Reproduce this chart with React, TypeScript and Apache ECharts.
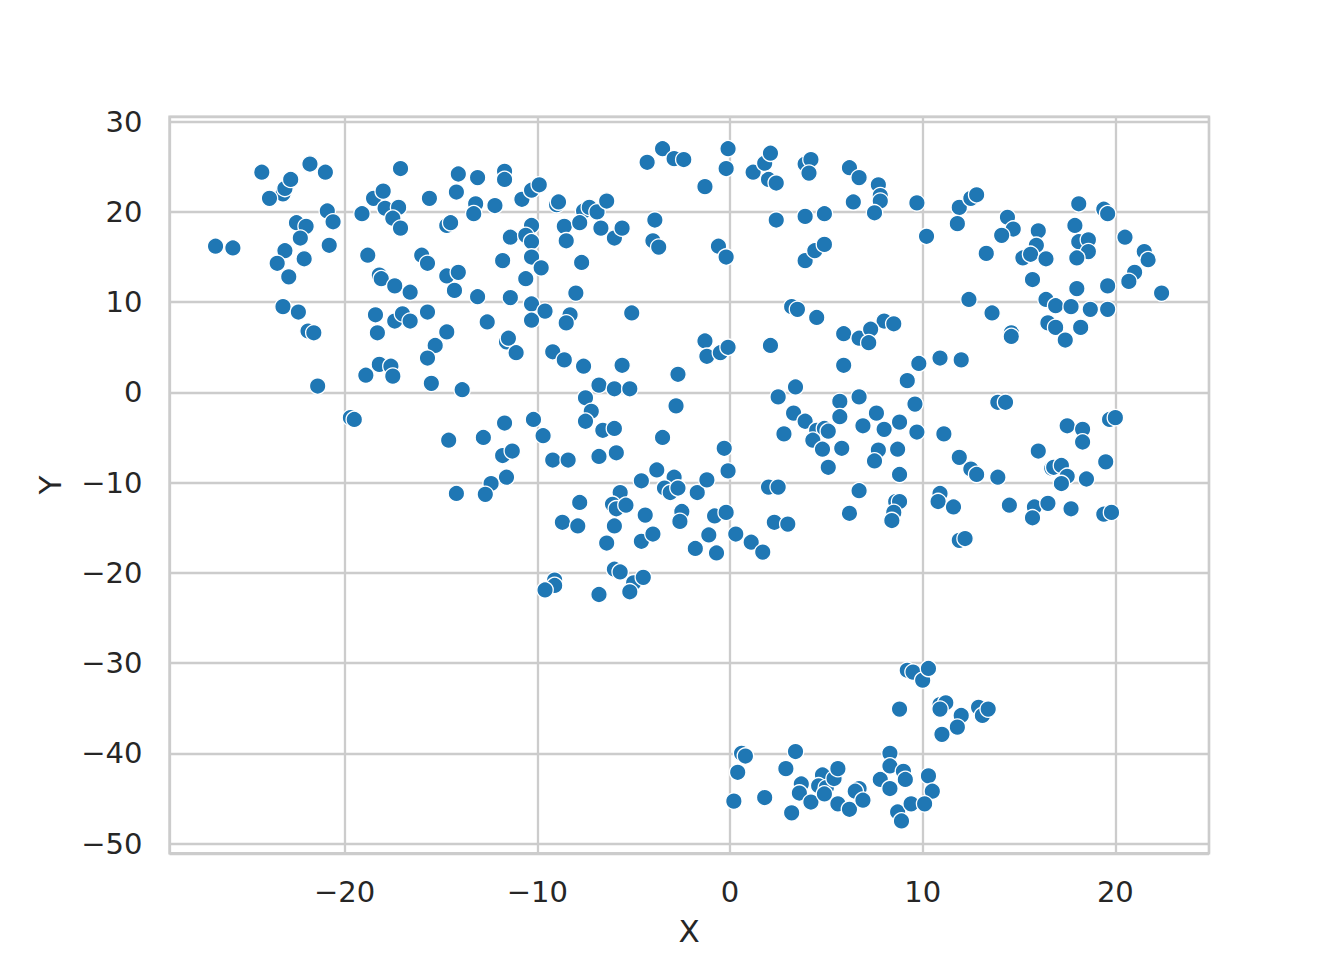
import React, { useEffect, useRef } from "react";
import * as echarts from "echarts";

// Points, grouped by region of the plot
const northWestPoints: [number, number][] = [
  [-23.2, 22.0], [-23.1, 22.6], [-22.8, 23.6], [-21.8, 25.3], [-21.0, 24.4], [-20.9, 20.1],
  [-20.6, 18.9], [-22.5, 18.8], [-22.0, 18.4], [-22.3, 17.1], [-26.7, 16.2], [-25.8, 16.0],
  [-23.1, 15.7], [-23.5, 14.3], [-22.1, 14.8], [-20.8, 16.3], [-22.9, 12.8], [-23.2, 9.5],
  [-22.4, 8.9], [-21.9, 6.8], [-21.6, 6.6], [-19.1, 19.8], [-18.5, 21.5], [-18.0, 22.3],
  [-17.9, 20.4], [-17.2, 20.5], [-17.5, 19.3], [-17.1, 18.2], [-17.1, 24.8], [-15.6, 21.5],
  [-14.1, 24.2], [-13.1, 23.8], [-11.7, 24.5], [-11.7, 23.6], [-14.2, 22.2], [-13.2, 20.9],
  [-13.3, 19.8], [-12.2, 20.7], [-14.7, 18.5], [-14.5, 18.8], [-11.4, 17.2], [-18.8, 15.2],
  [-16.0, 15.2], [-15.7, 14.3], [-11.8, 14.6], [-18.2, 13.0], [-18.1, 12.6], [-17.4, 11.8],
  [-16.6, 11.1], [-14.7, 12.9], [-14.1, 13.3], [-14.3, 11.3], [-13.1, 10.6], [-11.4, 10.5],
  [-18.4, 8.6], [-18.3, 6.6], [-17.4, 7.9], [-17.0, 8.7], [-16.6, 7.9], [-15.7, 8.9],
  [-12.6, 7.8], [-14.7, 6.7], [-15.3, 5.2], [-15.7, 3.8], [-11.6, 5.6], [-11.5, 6.0],
  [-11.1, 4.4], [-18.2, 3.1], [-17.6, 2.9], [-24.3, 24.4], [-23.9, 21.5],
];

const southWestPoints: [number, number][] = [
  [-17.5, 1.8], [-18.9, 1.9], [-15.5, 1.0], [-21.4, 0.7], [-13.9, 0.3], [-19.7, -2.8],
  [-19.5, -3.0], [-14.6, -5.3], [-12.8, -5.0], [-11.7, -3.4], [-11.8, -7.0], [-11.3, -6.5],
  [-11.6, -9.4], [-12.4, -10.1], [-14.2, -11.2], [-12.7, -11.3],
];

const northCentralPoints: [number, number][] = [
  [-4.3, 25.5], [-3.5, 27.0], [-2.9, 25.9], [-2.4, 25.8], [-0.1, 27.0], [-0.2, 24.8],
  [-1.3, 22.8], [1.2, 24.4], [1.8, 25.4], [2.1, 26.5], [2.0, 23.6], [2.4, 23.2],
  [3.9, 25.3], [4.2, 25.8], [4.1, 24.3], [6.2, 24.9], [6.7, 23.8], [6.4, 21.1],
  [-10.8, 21.4], [-10.3, 22.4], [-9.9, 23.0], [-9.0, 20.8], [-8.9, 21.1], [-7.6, 20.1],
  [-7.3, 20.5], [-6.9, 20.0], [-6.4, 21.2], [-8.6, 18.4], [-7.8, 18.8], [-6.7, 18.2],
  [-6.0, 17.1], [-5.6, 18.2], [-8.5, 16.8], [-3.9, 19.1], [-4.0, 16.8], [-3.7, 16.1],
  [-10.3, 18.5], [-10.6, 17.4], [-10.3, 16.7], [-10.3, 15.0], [-9.8, 13.8], [-7.7, 14.4],
  [-10.6, 12.6], [-10.3, 9.8], [-9.6, 9.0], [-10.3, 8.0], [-8.0, 11.0], [-8.3, 8.6],
  [-8.5, 7.7], [-5.1, 8.8], [-0.6, 16.2], [-0.2, 15.0], [2.4, 19.1], [3.9, 19.5],
  [4.9, 19.8], [3.9, 14.6], [4.4, 15.7], [4.9, 16.4], [3.2, 9.5], [3.5, 9.2],
  [4.5, 8.3], [5.9, 6.5], [6.7, 6.0], [2.1, 5.2], [-1.3, 5.7], [-1.2, 4.0],
  [-0.5, 4.4], [-0.1, 5.0], [-9.2, 4.5], [-8.6, 3.6], [-7.6, 2.9], [-5.6, 3.0],
];

const southCentralPoints: [number, number][] = [
  [-2.7, 2.0], [-6.8, 0.8], [-6.0, 0.4], [-5.2, 0.4], [-7.5, -0.6], [-7.2, -2.1],
  [-7.5, -3.2], [-2.8, -1.5], [-10.2, -3.0], [-9.7, -4.8], [-6.6, -4.2], [-6.0, -4.0],
  [-3.5, -5.0], [-9.2, -7.5], [-8.4, -7.5], [-6.8, -7.1], [-5.9, -6.7], [-0.3, -6.2],
  [-0.1, -8.7], [-3.8, -8.6], [-4.6, -9.8], [-2.9, -9.4], [-3.4, -10.6], [-3.1, -11.1],
  [-2.7, -10.6], [-1.7, -11.1], [-1.2, -9.7], [-5.7, -11.1], [-6.1, -12.4], [-5.9, -12.9],
  [-5.4, -12.5], [-7.8, -12.2], [-8.7, -14.4], [-7.9, -14.8], [-6.0, -14.8], [-4.4, -13.6],
  [-2.5, -13.2], [-2.6, -14.3], [-6.4, -16.7], [-4.6, -16.5], [-4.0, -15.7], [-1.8, -17.3],
  [-1.1, -15.8], [-0.7, -17.8], [-0.8, -13.7], [-0.2, -13.3], [0.3, -15.7], [1.1, -16.6],
  [1.7, -17.7], [-6.0, -19.6], [-5.7, -19.9], [-9.1, -20.8], [-9.1, -21.4], [-9.6, -21.9],
  [-6.8, -22.4], [-5.0, -21.1], [-4.5, -20.5], [-5.2, -22.1], [2.5, -0.5], [3.4, 0.6],
  [3.3, -2.3], [3.9, -3.2], [4.5, -4.2], [4.9, -4.0], [5.1, -4.3], [4.3, -5.3],
  [4.8, -6.3], [2.8, -4.6], [5.1, -8.3], [5.7, -1.0], [5.7, -2.7], [5.8, -6.2],
  [5.9, 3.0], [2.0, -10.5], [2.5, -10.5], [2.3, -14.4], [3.0, -14.6],
];

const northEastPoints: [number, number][] = [
  [7.7, 23.0], [7.8, 21.8], [7.8, 21.2], [7.5, 19.9], [9.7, 21.0], [10.2, 17.3],
  [11.9, 20.5], [12.5, 21.5], [12.8, 21.9], [11.8, 18.7], [13.3, 15.4], [14.4, 19.4],
  [14.7, 18.1], [14.1, 17.4], [16.0, 17.9], [15.9, 16.3], [15.2, 14.9], [15.6, 15.3],
  [16.4, 14.8], [15.7, 12.5], [18.1, 20.9], [19.4, 20.3], [19.6, 19.8], [17.9, 18.5],
  [18.1, 16.7], [18.6, 16.9], [18.6, 15.6], [18.0, 14.9], [20.5, 17.2], [21.5, 15.6],
  [21.7, 14.7], [21.0, 13.3], [20.7, 12.3], [22.4, 11.0], [18.0, 11.5], [19.6, 11.8],
  [16.4, 10.3], [16.9, 9.6], [17.7, 9.5], [18.7, 9.2], [19.6, 9.2], [16.5, 7.7],
  [16.9, 7.2], [18.2, 7.2], [17.4, 5.8], [12.4, 10.3], [13.6, 8.8], [14.6, 6.6],
  [14.6, 6.2], [8.0, 7.9], [8.5, 7.6], [7.3, 7.0], [7.2, 5.5], [9.8, 3.2],
  [10.9, 3.8], [12.0, 3.6],
];

const southEastPoints: [number, number][] = [
  [9.2, 1.3], [6.7, -0.5], [9.6, -1.3], [7.6, -2.3], [6.9, -3.7], [8.0, -4.1],
  [8.8, -3.3], [9.7, -4.4], [7.7, -6.4], [7.5, -7.6], [8.7, -6.3], [8.8, -9.1],
  [11.1, -4.6], [11.9, -7.2], [12.5, -8.5], [12.8, -9.1], [13.9, -9.4], [13.9, -1.1],
  [14.3, -1.1], [16.0, -6.5], [16.7, -8.4], [16.8, -8.3], [17.2, -8.1], [17.5, -9.3],
  [17.2, -10.1], [18.5, -9.6], [17.5, -3.7], [18.3, -4.1], [18.3, -5.5], [19.7, -3.0],
  [20.0, -2.8], [19.5, -7.7], [6.7, -10.9], [6.2, -13.4], [8.6, -12.1], [8.8, -12.1],
  [8.5, -13.3], [8.4, -14.2], [10.9, -11.2], [10.8, -12.1], [11.6, -12.7], [11.9, -16.4],
  [12.2, -16.2], [14.5, -12.5], [15.8, -12.7], [15.7, -13.9], [16.5, -12.3], [17.7, -12.9],
  [19.4, -13.5], [19.8, -13.3],
];

const southIslandPoints: [number, number][] = [
  [9.2, -30.8], [9.5, -31.0], [10.0, -31.9], [10.3, -30.6], [8.8, -35.1], [10.9, -34.6],
  [11.2, -34.4], [10.9, -35.1], [12.0, -35.8], [11.8, -37.1], [11.0, -37.9], [12.9, -34.9],
  [13.1, -35.8], [13.4, -35.1], [0.6, -40.0], [0.8, -40.3], [0.4, -42.1], [0.2, -45.3],
  [1.8, -44.9], [3.4, -39.8], [2.9, -41.7], [3.7, -43.4], [3.6, -44.4], [4.2, -45.4],
  [3.2, -46.6], [4.8, -42.4], [4.6, -43.6], [5.0, -43.8], [5.4, -42.8], [5.6, -41.7],
  [4.9, -44.5], [5.6, -45.6], [6.2, -46.2], [6.7, -43.9], [6.5, -44.2], [6.9, -45.2],
  [7.8, -42.9], [8.3, -40.0], [8.3, -41.4], [9.0, -42.0], [9.1, -42.9], [8.3, -43.9],
  [8.7, -46.5], [8.9, -47.5], [9.4, -45.6], [10.3, -42.5], [10.5, -44.2], [10.1, -45.6],
];

const xTicks = [-20, -10, 0, 10, 20];
const yTicks = [-50, -40, -30, -20, -10, 0, 10, 20, 30];
const xRange = [-29.09, 24.86];
const yRange = [-51.08, 30.55];
const xName = "X";
const yName = "Y";

const TEXT = "#262626";
const GRID = "#cccccc";
const FONT = "DejaVu Sans";

const fmt = (ticks: number[]) => (v: number) => {
  const hit = ticks.find((t) => Math.abs(t - v) < 1e-6);
  if (hit === undefined) return "";
  return hit < 0 ? "\u2212" + Math.abs(hit) : String(hit);
};

export default function App() {
  const ref = useRef<HTMLDivElement>(null);

  useEffect(() => {
    if (!ref.current) return;
    const chart = echarts.init(ref.current, undefined, { renderer: "svg" });
    const data = [
      ...northWestPoints,
      ...southWestPoints,
      ...northCentralPoints,
      ...southCentralPoints,
      ...northEastPoints,
      ...southEastPoints,
      ...southIslandPoints,
    ];
    chart.setOption({
      animation: false,
      backgroundColor: "#ffffff",
      grid: {
        left: 169.5,
        right: 135,
        top: 116.7,
        bottom: 106.7,
        show: true,
        borderColor: GRID,
        borderWidth: 2.4,
        backgroundColor: "transparent",
        containLabel: false,
      },
      xAxis: {
        type: "value",
        min: xRange[0],
        max: xRange[1],
        splitNumber: 5,
        axisLine: { show: false },
        axisTick: { show: false },
        axisLabel: {
          color: TEXT,
          fontFamily: FONT,
          fontSize: 29,
          margin: 24,
          showMinLabel: false,
          showMaxLabel: false,
          formatter: fmt(xTicks),
        },
        splitLine: { show: true, lineStyle: { color: GRID, width: 2.3 } },
      },
      yAxis: {
        type: "value",
        min: yRange[0],
        max: yRange[1],
        splitNumber: 8,
        axisLine: { show: false },
        axisTick: { show: false },
        axisLabel: {
          color: TEXT,
          fontFamily: FONT,
          fontSize: 29,
          margin: 27,
          showMinLabel: false,
          showMaxLabel: false,
          formatter: fmt(yTicks),
        },
        splitLine: { show: true, lineStyle: { color: GRID, width: 2.3 } },
      },
      graphic: [
        {
          type: "text",
          x: 689,
          y: 931,
          style: {
            text: xName,
            fill: TEXT,
            font: `31px "${FONT}"`,
            textAlign: "center",
            textVerticalAlign: "middle",
          },
        },
        {
          type: "text",
          x: 50,
          y: 485,
          rotation: Math.PI / 2,
          style: {
            text: yName,
            fill: TEXT,
            font: `31px "${FONT}"`,
            textAlign: "center",
            textVerticalAlign: "middle",
          },
        },
      ],
      series: [
        {
          type: "scatter",
          data,
          symbol: "circle",
          symbolSize: 16.4,
          itemStyle: {
            color: "#1f77b4",
            borderColor: "#ffffff",
            borderWidth: 1.3,
            opacity: 1,
          },
          emphasis: { disabled: true },
        },
      ],
    });
    return () => chart.dispose();
  }, []);

  return (
    <div
      ref={ref}
      style={{ position: "fixed", left: 0, top: 0, width: 1344, height: 960 }}
    />
  );
}
